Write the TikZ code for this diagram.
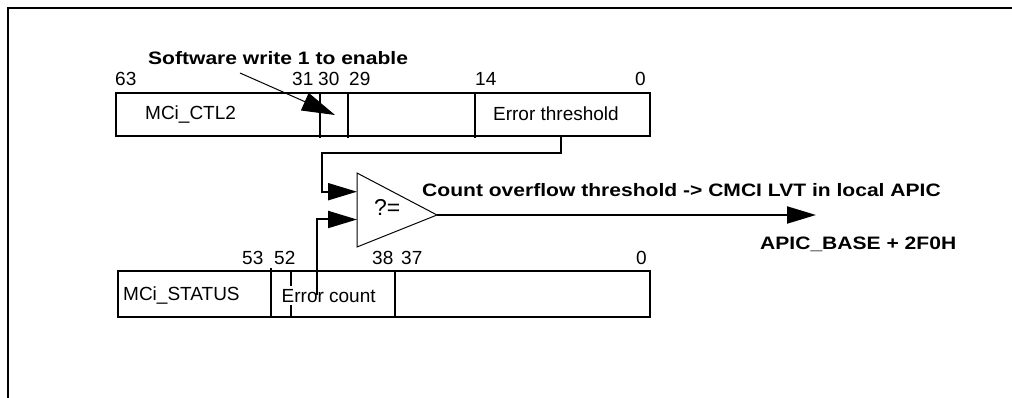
\documentclass[tikz,border=0pt]{standalone}
\usepackage{fontspec}
\setmainfont{Liberation Sans}
\newfontfamily\bwide{Liberation Sans}[FakeStretch=1.17]
\usetikzlibrary{arrows.meta}
\begin{document}
\begin{tikzpicture}[x=1pt,y=-1pt,
  frame/.style={line width=2pt},
  reg/.style={line width=2pt},
  conn/.style={line width=2pt,-{Triangle[length=29pt,width=17pt]}},
  thinarrow/.style={line width=1pt,-{Triangle[length=33pt,width=19pt]}},
  cmp/.style={line width=1pt,line join=miter},
  lbl/.style={inner sep=0pt,anchor=base west,font=\fontsize{19}{21}\selectfont},
  blbl/.style={inner sep=0pt,anchor=base west,font=\fontsize{18}{20}\selectfont\bwide\bfseries}]
\useasboundingbox (0,0) rectangle (1012,398);
% frame
\draw[frame] (1012,8.5) -- (8,8.5) -- (8,398);

% ---- MCi_CTL2 register ----
\draw[reg] (116,93) rectangle (650,136);
\draw[reg] (320,93) -- (320,138);
\draw[reg] (348,93) -- (348,138);
\draw[reg] (475,93) -- (475,138);
\node[lbl] (n63) at (115,85.7) {63};
\node[lbl] (n31) at (292,85.7) {31};
\node[lbl] (n30) at (318,85.7) {30};
\node[lbl] (n29) at (349,85.7) {29};
\node[lbl] (n14) at (475,85.7) {14};
\node[lbl,anchor=base east] (n0a) at (646,85.7) {0};
\node[lbl] (ctl) at (145,119.3) {MCi\_CTL2};
\node[lbl,anchor=base east] (thr) at (619,121) {Error threshold};

% software write label and arrow
\node[blbl] (sw) at (148,65) {Software write 1 to enable};
\coordinate (swstart) at (240,73);
\coordinate (swtip) at (335,115);
\draw[thinarrow] (swstart) -- (swtip);

% ---- comparator ----
\coordinate (ta) at (357,173);
\coordinate (tb) at (357,247);
\coordinate (tip) at (437,215);
\draw[cmp] (ta) -- (tip) -- (tb) -- cycle;
\node[lbl,font=\fontsize{23}{25}\selectfont] (cmpq) at (374,216) {?=};
\coordinate (in1) at (357,191.7);
\coordinate (in2) at (357,219.5);

% threshold -> comparator
\coordinate (thrdown) at (561,136);
\draw[conn] (thrdown) -- (561,153) -- (322,153) -- (322,191.7) -- (in1);

% output
\coordinate (out) at (816,215);
\draw[conn] (tip) -- (out);
\node[blbl] (ovf) at (422,196.7) {Count overflow threshold -> CMCI LVT in local APIC};
\node[blbl] (apic) at (760,249) {APIC\_BASE + 2F0H};

% ---- MCi_STATUS register ----
\draw[reg] (118,271) rectangle (650,317);
\draw[reg] (271,268) -- (271,317);
\draw[reg] (291,271) -- (291,317);
\draw[reg] (395,271) -- (395,317);
\node[lbl] (n53) at (242,265) {53};
\node[lbl] (n52) at (274,265) {52};
\node[lbl] (n38) at (372,265) {38};
\node[lbl] (n37) at (401,265) {37};
\node[lbl,anchor=base east] (n0b) at (647,265) {0};
\node[lbl] (stat) at (123,300) {MCi\_STATUS};
\node[lbl,fill=white,inner sep=2.5pt] (cnt) at (279,302) {Error count};

% error count -> comparator
\coordinate (cntup) at (317,295);
\draw[conn] (cntup) -- (317,219.5) -- (in2);
\end{tikzpicture}
\end{document}
